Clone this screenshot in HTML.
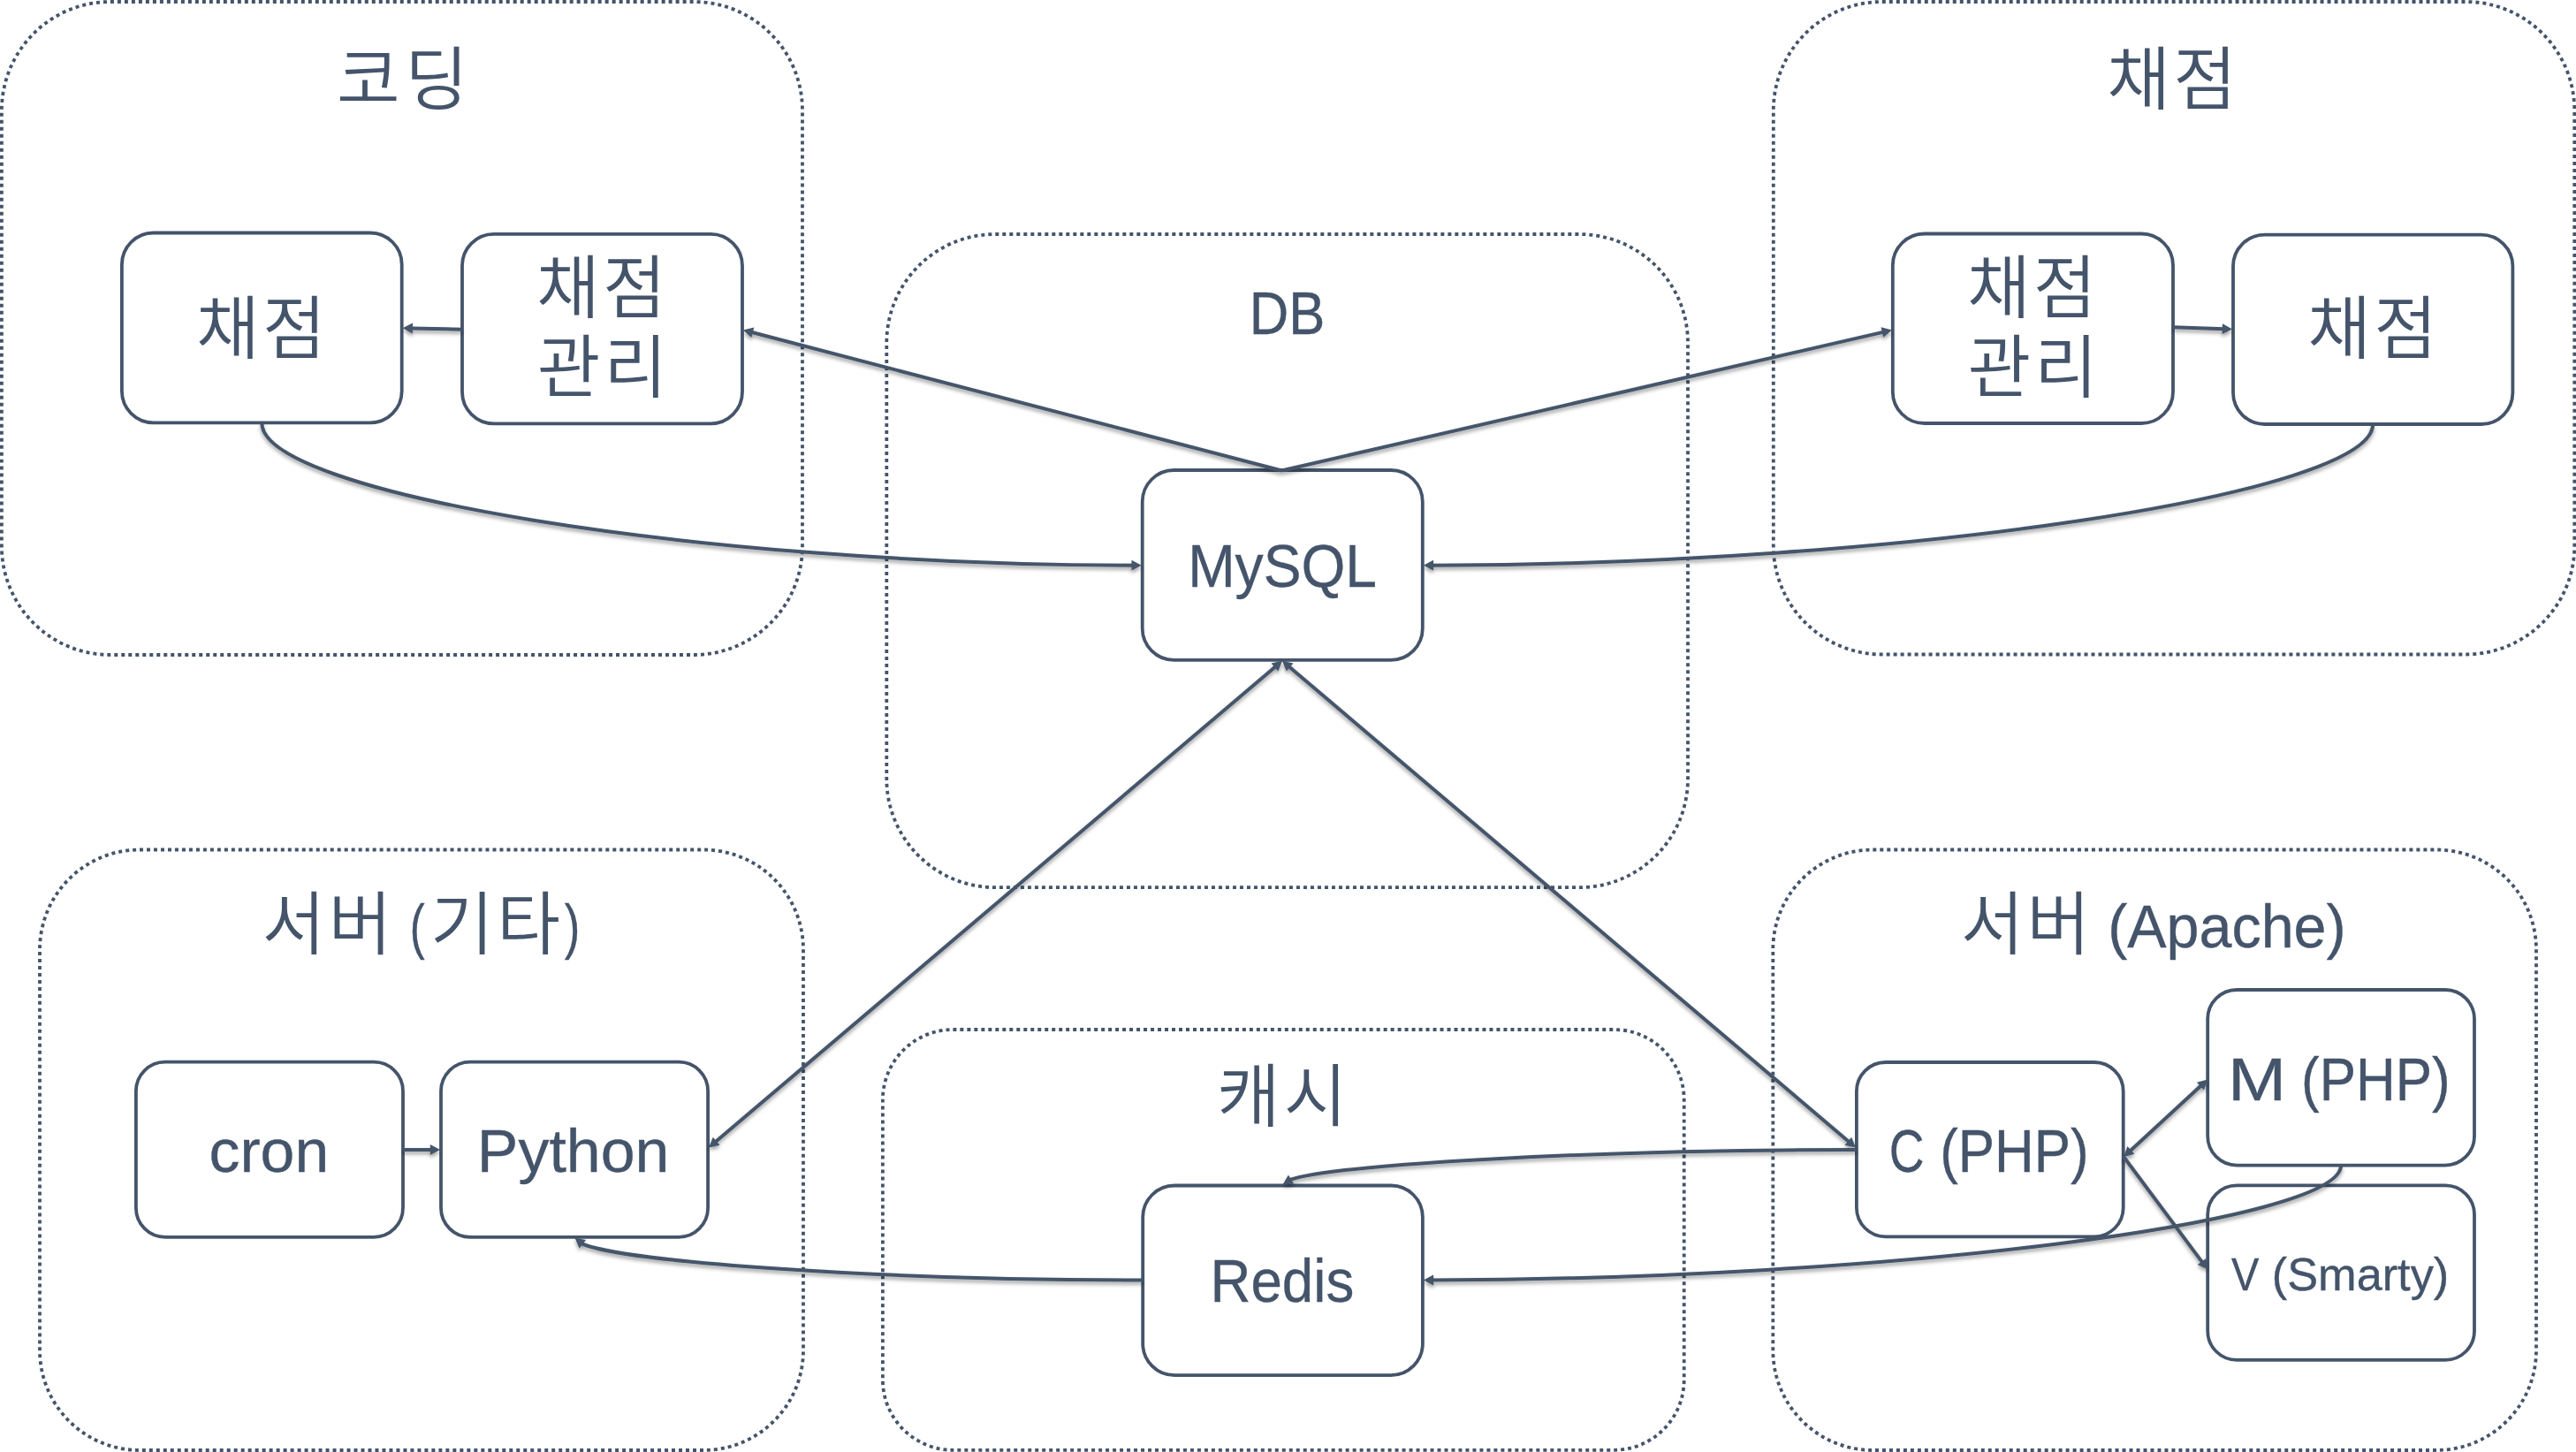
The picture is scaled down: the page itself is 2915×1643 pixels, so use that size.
<!DOCTYPE html>
<html lang="ko"><head><meta charset="utf-8"><title>Architecture</title>
<style>html,body{margin:0;padding:0;background:#fff}svg{display:block}</style></head>
<body>
<svg width="2915" height="1643" viewBox="0 0 2915 1643">
<defs><filter id="sh" x="-5%" y="-5%" width="110%" height="110%" filterUnits="userSpaceOnUse" primitiveUnits="userSpaceOnUse"><feGaussianBlur in="SourceAlpha" stdDeviation="2.1"/><feOffset dx="0" dy="2.8" result="b"/><feFlood flood-color="#000" flood-opacity="0.38"/><feComposite in2="b" operator="in"/><feMerge><feMergeNode/><feMergeNode in="SourceGraphic"/></feMerge></filter></defs>
<rect width="2915" height="1643" fill="#fff"/>
<g fill="none" stroke="#44546A" stroke-width="3.8" stroke-dasharray="4 4">
<rect x="1.9" y="2" width="906.1" height="739.0" rx="123" pathLength="3080"/>
<rect x="2006.8" y="2" width="906.5" height="738.5" rx="123" pathLength="3080"/>
<rect x="1003.3" y="265.0" width="906.7" height="739.2" rx="123" pathLength="3080"/>
<rect x="45" y="961.5" width="864.0" height="679.5" rx="113" pathLength="2896"/>
<rect x="998.9" y="1165" width="906.8" height="475.8" rx="79.5" pathLength="2632"/>
<rect x="2006.3" y="961.5" width="863.7" height="679.5" rx="113" pathLength="2896"/>
</g>
<g fill="#fff" stroke="#44546A" stroke-width="3.8">
<rect x="137.9" y="263.5" width="316.8" height="214.9" rx="35.8"/>
<rect x="523" y="264.8" width="317.0" height="214.6" rx="35.8"/>
<rect x="2141.8" y="264.5" width="317.2" height="214.5" rx="35.8"/>
<rect x="2527" y="265.6" width="316.4" height="214.4" rx="35.7"/>
<rect x="1292.7" y="532" width="317.1" height="214.8" rx="35.8"/>
<rect x="153.9" y="1201.7" width="302.1" height="198.1" rx="33.0"/>
<rect x="499" y="1201.7" width="302.1" height="198.1" rx="33.0"/>
<rect x="1293.2" y="1341.5" width="316.7" height="214.6" rx="35.8"/>
<rect x="2100.9" y="1202" width="301.8" height="197.4" rx="32.9"/>
<rect x="2498.2" y="1120" width="301.8" height="198.6" rx="33.1"/>
<rect x="2498.2" y="1341.4" width="301.8" height="197.5" rx="32.9"/>
</g>
<g fill="#44546A" stroke="#44546A" stroke-width="4" filter="url(#sh)">
<path fill="none" d="M296.3 478.4C296.3 558.5 787.6 638.7 1282.0 639.7"/><polygon stroke="none" points="1291.7,639.7 1280.5,645.6 1280.5,633.8"/>
<path fill="none" d="M2685.2 480.0C2685.2 559.4 2154.4 638.7 1620.5 639.7"/><polygon stroke="none" points="1610.8,639.7 1622.0,633.8 1622.0,645.6"/>
<path fill="none" d="M2100.9 1301.0C1805.3 1301.0 1509.7 1317.4 1459.1 1335.2"/><polygon stroke="none" points="1451.6,1340.5 1457.9,1329.6 1464.2,1339.6"/>
<path fill="none" d="M2649.1 1318.6C2649.1 1383.2 2136.2 1447.7 1620.2 1448.5"/><polygon stroke="none" points="1610.9,1448.5 1622.1,1442.6 1622.1,1454.4"/>
<path fill="none" d="M1293.2 1448.5C999.5 1448.5 705.8 1428.6 657.4 1406.9"/><polygon stroke="none" points="650.5,1400.8 663.0,1403.1 655.7,1412.4"/>
<path fill="none" d="M1450.3 532.5L849.9 375.8"/><polygon stroke="none" points="841.0,373.5 853.3,370.6 850.3,382.0"/>
<path fill="none" d="M1450.3 532.5L2131.8 375.6"/><polygon stroke="none" points="2140.8,373.5 2131.2,381.8 2128.6,370.3"/>
<path fill="none" d="M523.0 372.7L464.9 371.5"/><polygon stroke="none" points="455.7,371.3 467.0,365.6 466.8,377.4"/>
<path fill="none" d="M2459.0 370.3L2516.8 372.2"/><polygon stroke="none" points="2526.0,372.5 2514.6,378.0 2515.0,366.2"/>
<path fill="none" d="M456.0 1301.0L488.8 1301.0"/><polygon stroke="none" points="498.0,1301.0 486.8,1306.9 486.8,1295.1"/>
<path fill="none" d="M809.1 1292.5L1444.0 753.8"/><polygon stroke="none" points="802.1,1298.5 806.8,1286.8 814.5,1295.8"/><polygon stroke="none" points="1451.0,747.8 1446.3,759.5 1438.6,750.5"/>
<path fill="none" d="M2092.9 1292.5L1458.0 753.8"/><polygon stroke="none" points="2099.9,1298.5 2087.5,1295.8 2095.2,1286.8"/><polygon stroke="none" points="1451.0,747.8 1463.4,750.5 1455.7,759.5"/>
<path fill="none" d="M2410.0 1302.8L2491.4 1227.7"/><polygon stroke="none" points="2403.2,1309.0 2407.4,1297.1 2415.4,1305.8"/><polygon stroke="none" points="2498.2,1221.5 2494.0,1233.4 2486.0,1224.7"/>
<path fill="none" d="M2403.2 1309.0L2492.7 1429.1"/><polygon stroke="none" points="2498.2,1436.5 2486.8,1431.0 2496.2,1424.0"/>
</g>
<g fill="#44546A" font-family='"Liberation Sans", "Noto Sans CJK KR", sans-serif'>
<text x="381.0 457.9" y="117.8" font-size="78" font-weight="350">코딩</text>
<text x="2384.2 2459.2" y="117.8" font-size="78" font-weight="350">채점</text>
<text x="222.0 297.0" y="399.7" font-size="78" font-weight="350">채점</text>
<text x="2611.2 2686.2" y="399.9" font-size="78" font-weight="350">채점</text>
<text x="607.1 682.0" y="354.3" font-size="78" font-weight="350">채점</text>
<text x="607.8 683.2" y="444.4" font-size="78" font-weight="350">관리</text>
<text x="2225.9 2300.8" y="354.1" font-size="78" font-weight="350">채점</text>
<text x="2226.4 2301.9" y="443.8" font-size="78" font-weight="350">관리</text>
<text x="296.5 371.7" y="1073.9" font-size="78" font-weight="350">서버</text>
<text x="487.1 562.2" y="1073.9" font-size="78" font-weight="350">기타</text>
<text x="2218.7 2293.6" y="1074.0" font-size="78" font-weight="350">서버</text>
<text x="1377.1 1452.8" y="1269.0" font-size="78" font-weight="350">캐시</text>
<text transform="translate(1413.76 378.0) scale(0.9071 1)" font-size="68.0" stroke="#44546A" stroke-width="0.35">DB</text>
<text transform="translate(1344.14 664.3) scale(0.9434 1)" font-size="68.0" stroke="#44546A" stroke-width="0.35">MySQL</text>
<text transform="translate(236.52 1325.7) scale(1.0256 1)" font-size="68.0" stroke="#44546A" stroke-width="0.35">cron</text>
<text transform="translate(539.83 1325.7) scale(1.0279 1)" font-size="68.0" stroke="#44546A" stroke-width="0.35">Python</text>
<text transform="translate(1369.38 1473.4) scale(0.9370 1)" font-size="68.0" stroke="#44546A" stroke-width="0.35">Redis</text>
<text transform="translate(2137.67 1325.6) scale(0.8093 1)" font-size="68.0" stroke="#44546A" stroke-width="0.35">C</text>
<text transform="translate(2195.16 1325.6) scale(0.9102 1)" font-size="68.0" stroke="#44546A" stroke-width="0.35">(PHP)</text>
<text transform="translate(2520.90 1245.0) scale(1.1667 1)" font-size="68.0" stroke="#44546A" stroke-width="0.35">M</text>
<text transform="translate(2604.05 1245.0) scale(0.9113 1)" font-size="68.0" stroke="#44546A" stroke-width="0.35">(PHP)</text>
<text transform="translate(2524.90 1459.6) scale(0.9118 1)" font-size="51.5" stroke="#44546A" stroke-width="0.35">V</text>
<text transform="translate(2570.85 1459.6) scale(1.0152 1)" font-size="51.5" stroke="#44546A" stroke-width="0.35">(Smarty)</text>
<text transform="translate(2385.19 1072.0) scale(0.9769 1)" font-size="68.0" stroke="#44546A" stroke-width="0.35">(Apache)</text>
<text transform="translate(463.80 1072.0) scale(0.7500 1.02)" font-size="68.0" stroke="#44546A" stroke-width="0.35">(</text>
<text transform="translate(638.72 1072.0) scale(0.7765 1.02)" font-size="68.0" stroke="#44546A" stroke-width="0.35">)</text>
</g>
</svg>
</body></html>
